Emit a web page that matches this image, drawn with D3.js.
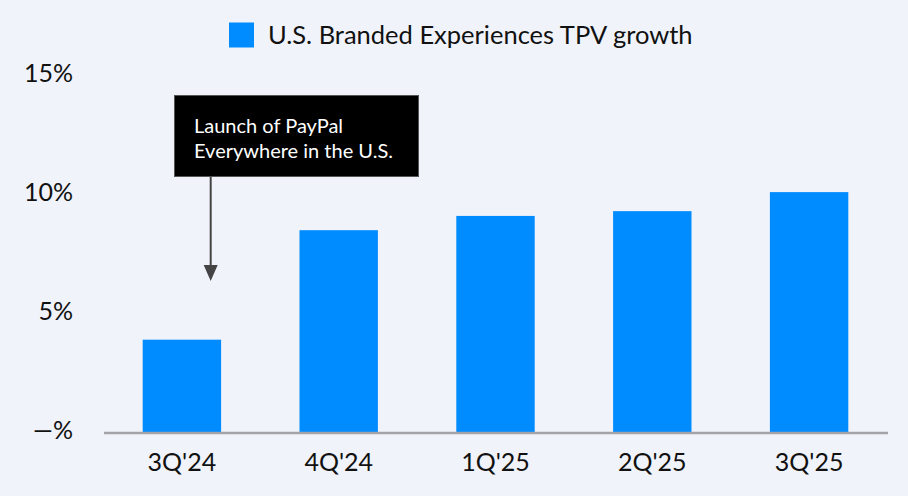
<!DOCTYPE html>
<html>
<head>
<meta charset="utf-8">
<script src="https://cdn.jsdelivr.net/npm/d3@7"></script>
<style>
  body { margin: 0; background: #f0f3fa; }
  svg { display: block; font-family: Lato, "Noto Sans", sans-serif; }
</style>
</head>
<body>
<svg id="chart"></svg>
<script>
// chart data
let quarters = ["3Q'24", "4Q'24", "1Q'25", "2Q'25", "3Q'25"];
let tpvGrowth = [3.9, 8.5, 9.1, 9.3, 10.1];
let yTicks = [0, 5, 10, 15];
let yTickLabels = ["\u2014%", "5%", "10%", "15%"];
let legendLabel = "U.S. Branded Experiences TPV growth";
let noteLines = ["Launch of PayPal", "Everywhere in the U.S."];
let noteQuarter = "3Q'24";

let width = 908, height = 496;
let barColor = "#008bff";

let svg = d3.select('#chart')
  .attr('width', width)
  .attr('height', height);

svg.append('rect')
  .attr('width', width)
  .attr('height', height)
  .attr('fill', '#f0f3fa');

// scales
let xScale = d3.scaleBand()
  .domain(quarters)
  .range([103.5, 887.5])
  .paddingInner(0.5)
  .paddingOuter(0.25);

let yScale = d3.scaleLinear()
  .domain([0, 15])
  .range([432.5, 75.5]);

// bars
svg.append('g')
  .selectAll('rect')
  .data(quarters)
  .join('rect')
  .attr('x', d => xScale(d))
  .attr('width', xScale.bandwidth())
  .attr('y', (d, i) => yScale(tpvGrowth[i]))
  .attr('height', (d, i) => yScale(0) - yScale(tpvGrowth[i]))
  .attr('fill', barColor);

// y axis (labels only)
let yAxis = d3.axisLeft(yScale)
  .tickValues(yTicks)
  .tickSize(0)
  .tickPadding(0)
  .tickFormat((d, i) => yTickLabels[i]);

let yG = svg.append('g')
  .attr('transform', 'translate(73,-2)')
  .call(yAxis);
yG.select('.domain').remove();
yG.selectAll('text')
  .attr('font-family', 'Lato, sans-serif')
  .attr('font-size', 25)
  .attr('fill', '#111');

// x axis
let xAxis = d3.axisBottom(xScale)
  .tickSize(0)
  .tickPadding(21);

let xG = svg.append('g')
  .attr('transform', 'translate(0,' + yScale(0) + ')')
  .call(xAxis);
xG.select('.domain')
  .attr('stroke', '#a3a3a8')
  .attr('stroke-width', 2.5);
xG.selectAll('text')
  .attr('font-family', 'Lato, sans-serif')
  .attr('font-size', 25)
  .attr('fill', '#111');

// legend
let legend = svg.append('g');
legend.append('rect')
  .attr('x', 229).attr('y', 22.5)
  .attr('width', 25).attr('height', 25)
  .attr('fill', barColor);
legend.append('text')
  .attr('x', 268).attr('y', 44)
  .attr('font-size', 25.5)
  .attr('fill', '#111')
  .text(legendLabel);

// annotation
let arrowX = xScale(noteQuarter) + 68;
let note = svg.append('g');
note.append('rect')
  .attr('x', 174.5).attr('y', 95.5)
  .attr('width', 244).attr('height', 81)
  .attr('fill', '#000')
  .attr('stroke', '#555')
  .attr('stroke-width', 1);
note.selectAll('text')
  .data(noteLines)
  .join('text')
  .attr('x', 194)
  .attr('y', (d, i) => 133 + i * 24.5)
  .attr('font-size', 20)
  .attr('fill', '#fff')
  .text(d => d);

note.append('line')
  .attr('x1', arrowX).attr('x2', arrowX)
  .attr('y1', 177).attr('y2', 268)
  .attr('stroke', '#444')
  .attr('stroke-width', 2);
note.append('path')
  .attr('d', d3.line()([[arrowX - 7, 265], [arrowX + 7, 265], [arrowX, 281]]) + 'Z')
  .attr('fill', '#444');
</script>
</body>
</html>
